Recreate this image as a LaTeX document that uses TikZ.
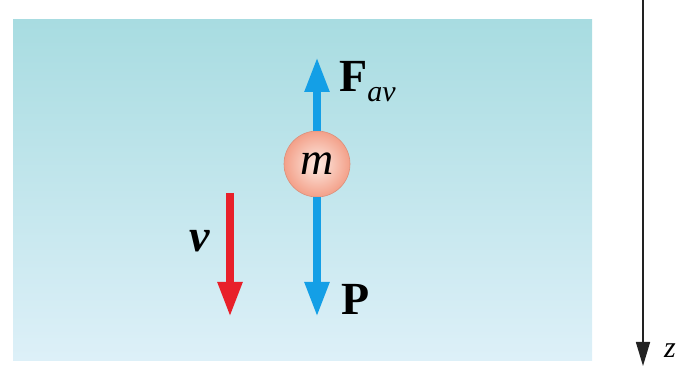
\documentclass[tikz,border=0pt]{standalone}
\usepackage{fontspec}
\setmainfont{Liberation Serif}
\usepackage{xcolor}
\usepackage{tikz}
\usetikzlibrary{arrows.meta,positioning}
\definecolor{fluidtop}{HTML}{A8DCE1}
\definecolor{fluidbot}{HTML}{DDF0F8}
\definecolor{forceblue}{HTML}{149FE6}
\definecolor{velred}{HTML}{E8202A}
\definecolor{ballin}{HTML}{FDEBE3}
\definecolor{ballout}{HTML}{F3A089}
\definecolor{axisgray}{HTML}{222222}

\begin{document}
\begin{tikzpicture}[
  x=1pt, y=-1pt,
  font=\fontsize{46}{46}\selectfont,
  force/.style={-{Triangle[length=35pt,width=23pt]}, line width=8pt, draw=forceblue},
  velocity/.style={-{Triangle[length=35pt,width=23pt]}, line width=8pt, draw=velred},
  axis/.style={-{Triangle[length=24pt,width=14pt]}, line width=1.6pt, draw=axisgray},
  mass/.style={circle, minimum size=66pt, inner sep=0pt, draw=ballout!90!black, line width=0.6pt, inner color=ballin, outer color=ballout}
]
  \useasboundingbox (0,0) rectangle (678,366);
  \shade[top color=fluidtop, bottom color=fluidbot] (13,20) rectangle (592,360);

  \coordinate (ftip) at (317,57);
  \coordinate (ptip) at (317,317);
  \coordinate (vtop) at (230,193);
  \coordinate (vtip) at (230,317);
  \coordinate (ztop) at (643,0);
  \coordinate (ztip) at (643,366);

  \node[mass] (ball) at (317,164) {\itshape m};

  \draw[force] (ball.north) -- (ftip);
  \draw[force] (ball.south) -- (ptip);
  \draw[velocity] (vtop) -- (vtip);
  \draw[axis] (ztop) -- (ztip);

  \node[anchor=base west, inner sep=0pt] (flabel) at (339,92) {\textbf{F}\raisebox{-10pt}{\fontsize{30}{30}\selectfont\itshape av}};
  \node[anchor=base west, inner sep=0pt] (plabel) at (341,315) {\textbf{P}};
  \node[anchor=base west, inner sep=0pt] (vlabel) at (189,252) {\bfseries\itshape v};
  \node[anchor=base west, inner sep=0pt] (zlabel) at (664,357) {\fontsize{30}{30}\selectfont\itshape z};
\end{tikzpicture}
\end{document}
